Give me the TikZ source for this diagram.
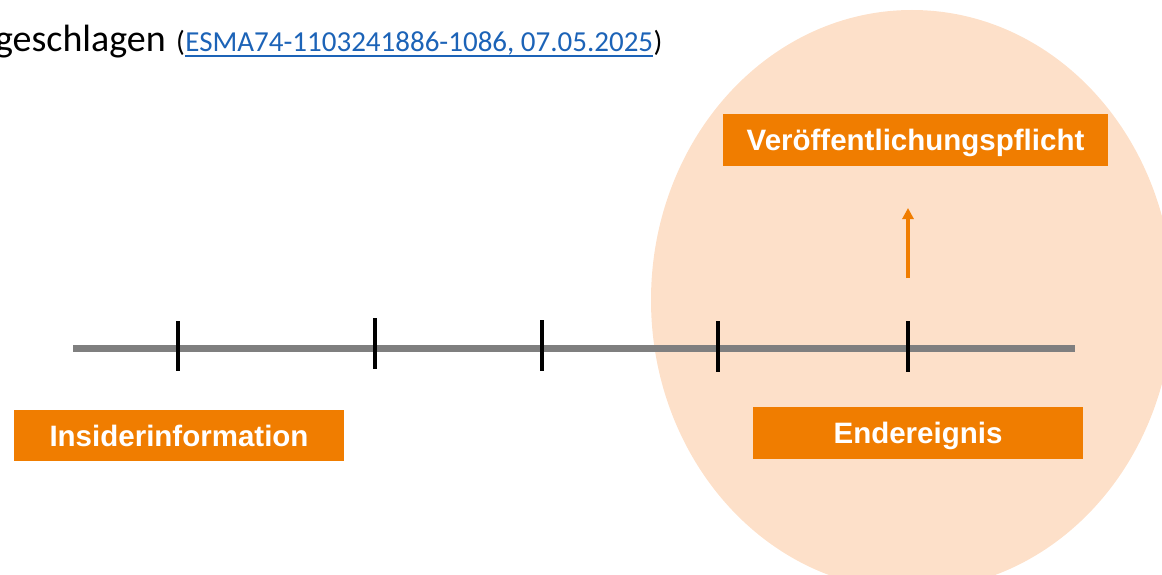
\documentclass[tikz,border=0pt]{standalone}
\usepackage{fontspec}
\setmainfont{Carlito}
\newfontfamily\boxfont{Liberation Sans}
\usetikzlibrary{arrows.meta,calc}
\definecolor{orangeA}{HTML}{F07D00}
\definecolor{peach}{HTML}{FDE0C9}
\definecolor{lineGray}{HTML}{7F7F7F}
\definecolor{linkBlue}{HTML}{1C63B7}
\tikzset{
  labelbox/.style={fill=orangeA, draw=none, text=white, font=\boxfont\bfseries\fontsize{29.5}{32}\selectfont, inner sep=0pt, anchor=center, text height=21pt, text depth=0pt},
  tickmark/.style={draw=black, line width=3.2pt},
  axisline/.style={draw=lineGray, line width=7pt},
  pubarrow/.style={draw=orangeA, line width=3.2pt, -{Triangle[length=11pt,width=11pt]}},
  titletext/.style={inner sep=0pt, anchor=base west}
}
\begin{document}
\begin{tikzpicture}[x=1pt,y=-1pt]
\useasboundingbox (0,0) rectangle (1162,575);
\clip (0,0) rectangle (1162,575);
% highlight ellipse
\fill[peach] (912,300) ellipse [x radius=261, y radius=290];
% title
\node[inner sep=0pt, anchor=base east, font=\fontsize{38}{42}\selectfont] (title) at (166,52) {geschlagen};
\node[titletext, font=\fontsize{29}{32}\selectfont] (popen) at (176,52) {(};
\node[titletext, font=\fontsize{29}{32}\selectfont, text=linkBlue] (link) at (popen.base east) {ESMA74-1103241886-1086, 07.05.2025};
\node[titletext, font=\fontsize{29}{32}\selectfont] (pclose) at (link.base east) {)};
\draw[linkBlue, line width=1.6pt] ($(link.base west)+(0,4)$) -- ($(link.base east)+(0,4)$);
% timeline
\coordinate (tlA) at (73,348);
\coordinate (tlB) at (1075,348);
\draw[axisline] (tlA) -- (tlB);
\foreach \n/\x/\ya/\yb in {t1/178/321/371, t2/375/318/369, t3/542/320/371, t4/718/321/372, t5/908/321/372}{
  \coordinate (\n a) at (\x,\ya);
  \coordinate (\n b) at (\x,\yb);
  \draw[tickmark] (\n a) -- (\n b);
}
% boxes
\node[labelbox, minimum width=330pt, minimum height=51pt] (insider) at (179,435.5) {Insiderinformation};
\node[labelbox, minimum width=330pt, minimum height=52pt] (ende) at (918,433) {Endereignis};
\node[labelbox, minimum width=385pt, minimum height=52pt] (pflicht) at (915.5,140) {Veröffentlichungspflicht};
% arrow
\coordinate (arrA) at (908,278);
\coordinate (arrB) at (908,208);
\draw[pubarrow] (arrA) -- (arrB);
\end{tikzpicture}
\end{document}
